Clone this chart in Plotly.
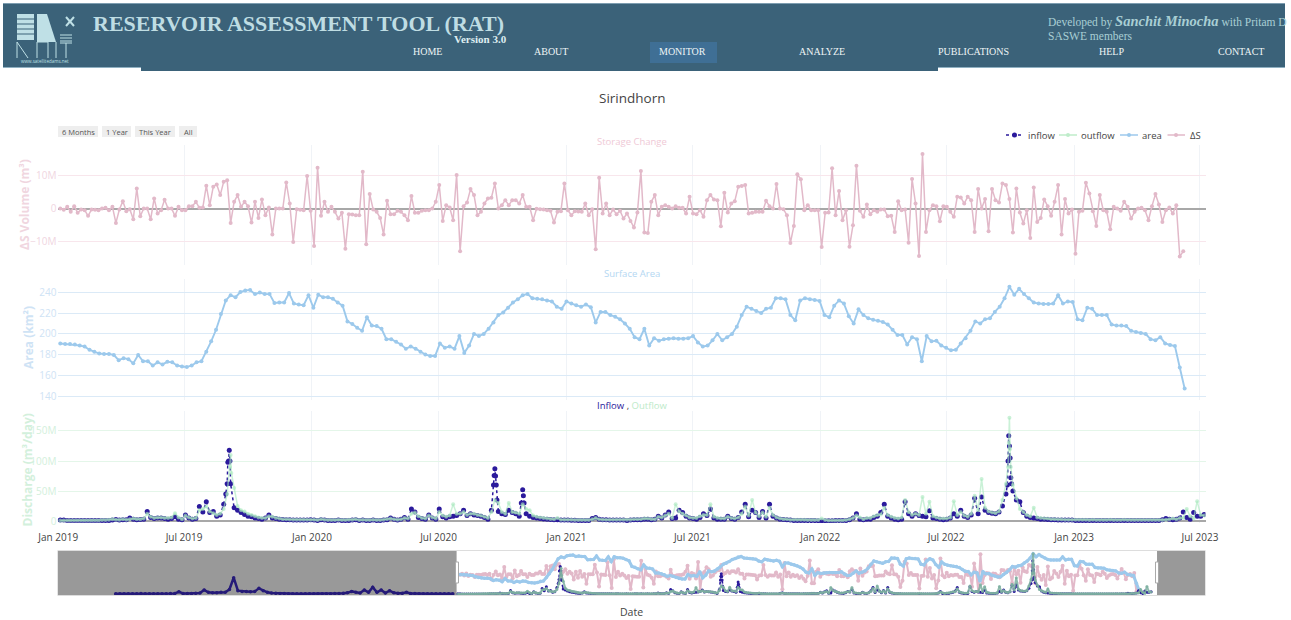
import pandas as pd
import plotly.graph_objects as go

# ---------- data ----------
reservoir = "Sirindhorn"
tick_dtick = "M6"

area_km2 = [191,190.5,190.5,190,189,188,185,183,181.5,181,181,180,175,177,176,172,180,174,174,170,173,171,173.5,173,170,169,168.5,170,173,174,
183,193,204,219,232,237,235,240,241.5,242,238,239.5,238,238,229.5,230,230,239,229,228,227.5,237,225,237.5,235,235,233.5,230,227,212,
209.5,206,203,216,208,207.5,205,195,195,192.5,190,186,188,186,183,180.5,179,179,191,187,188,186,198,182,189,200,198,200,205,211,
218,220.5,225,230,233,237,238,234,233.5,233,232,231,226,224,231,229,227.5,226,228,225.5,211,221,221,218,216.5,214,210,205,197,195,
205,189,196,193.5,195,195.5,196,195.5,195.5,196,198,192,188,189,194,200,194,197,200,207,218,226,224,222,220,224,225,234,234,233,
218,213,232,234,233,232.5,231.5,218,216,227,232,229,217,210,223.5,218,215,213.5,212.5,211.5,209,204,199,199,190,197,195,174,198,193,
193.5,189,187,184.5,185,191,196,203,212,210,214,215,221,226,234,245,237.5,243,238,234,230,229,228.5,228.5,229,237,229,231,230.5,214,
213,225,224,218,218,218,209,208,208,207.5,203,202,201,200,195,194,197,191,189.5,188.5,168,148]

delta_s_m = [0,-0.4,0.5,-1,0.7,-1.3,-0.3,-0.5,-2.2,-0.3,-0.4,-0.5,0,0.2,-0.5,0.5,-4.3,-0.3,2.2,-0.8,-0.2,-3.2,6,-2.3,0,0,-3.2,3,-1.5,-0.5,
2.6,0,0,-2.2,0.5,-0.5,-0.5,0.7,0.7,2,0.2,0.3,6.8,1,6.5,7.2,4,8,8.4,-4.3,2,4,0.5,2,0.7,-4.2,2,-2.8,2.7,-2,
0.3,-7.8,0,0,0,7.8,1.5,-10,-0.2,-0.4,-0.5,9.7,-0.7,-11.2,12.2,-2.2,2,-1,0.5,-1,-3,-1.3,-12,-1.7,-1.8,-2,-2,11,-10.7,4.3,
-0.3,-1,-2.8,-7.8,2.3,-1.7,-1.7,-0.7,-1,-2,-3.5,3.7,-1.3,-1.3,-0.7,-0.5,-0.5,0,2,7,-3.7,1,
0.3,-3.5,10,-12.8,0.7,1.8,5.8,4,-2,-1,1.5,3,3.2,7.5,0,1,2.5,1,2.5,2.5,1.5,4,0.5,0.5,-3.5,-0.1,-0.2,-0.3,-0.5,-0.7,-4.2,-1,-0.8,7.5,-0.5,-2,-0.8,-0.9,-1,1.5,
-2,-0.2,-12.2,9.2,-1.5,1.5,-2,-0.3,-1.7,-0.7,-3,-1.5,-3.7,-5.7,-1.2,11.2,-7.2,-7.3,2,4,-2,0.5,1,0.5,0,0.7,0.2,0.2,-1.5,3.5,-1.5,-1.7,-0.5,-2.5,2.5,4,2.7,2.5,-5.3,4.7,
-1.2,1.5,2.2,6.5,6.7,7,-1.5,-1.3,-1,-1,-1,2.3,0.7,0,7.3,0,-0.2,-2,-10.3,-5.2,10.2,8.7,-0.5,1,-0.5,-0.5,-0.5,-11.5,-1.3,-1.2,12,-2,5.2,-3.5,-0.5,-11.4,-5,12.8,-0.7,-2.5,
1.2,-1.7,-0.5,-1,-0.3,-0.3,-2.3,-2.2,-7,2.2,-0.5,-0.3,-10.2,8.8,1.5,-14.2,16.3,-7,-0.5,1,0.7,-3.8,0.7,0.5,-1,-2.5,3.5,3.3,1.5,3.5,2.5,-7,5.8,0,2.8,-6.8,5.8,2.5,1.8,7.5,
7,2.8,-7.2,6,-1.2,-4.5,-0.5,-8.8,6.3,-4,-2.8,2.7,0.7,-2.2,2,7,-7.8,2.8,-1.5,-0.3,-13.5,-1,-0.7,7.7,4.5,-0.8,-5.2,4,-0.5,-1,-6.2,0.5,0,-0.7,2,0.5,-3,-1,0,0.2,
-0.5,-3.5,0.7,4.3,1.2,-4,-0.5,0.3,-1.5,1,-14.3,-12.8]

inflow_m = [1.5,1.5,1,1,1,1,1,1,1,1,1,1,1,1,1,1.5,2.5,1.5,2,2,5,3,2,2.5,3,16,6,4,5,5,4,3,4,7,3,2,10,5,3,4,24,15,32,14,16,8,10,28,62,62,
22,18,14,11,8,7,5,4,3,5,10,5,4,3,2.5,2,2,1.5,1.5,1.5,1.5,1.5,2,1.5,1,2,1.5,1,1,1,1.5,1,1,1,1.5,2,1,1.5,1,1,1.5,1,1,1.5,2,5,3,1.5,3,6,
3,20,15,6,4,3,10,5,3,20,7,5,7,8,9,12,18,9,12,10,9,8,6,3,18,87,16,12,11,18,14,12,8,52,12,8,6,5,4,3.5,3,2.5,2,2,1.5,1.5,1.5,1.2,1.2,1,
1,1,1,4,6,3,2,2,1.5,1.5,1.5,1.5,1.5,1,1.5,2,2,2,3,3,2,3,8,5,10,15,4,5,18,14,8,5,4,3,6,12,9,20,5,3,3,3,8,4,3,6,15,28,7,18,
14,6,16,5,28,8,5,3,2.5,2,1.5,1,1,1,1,0.7,0.7,0.7,0.5,0.5,0.5,0.5,0.5,0.7,0.7,0.7,1,2,5,12,3,2,3,3,6,8,14,28,8,5,3,2,3,32,12,8,12,9,
8,7,17,5,4,3,2,3,5,12,8,18,8,6,10,38,12,40,18,14,13,12,15,25,45,125,50,35,32,14,8,6,5,4,3,3,2.5,2,2,1.5,1.5,1.5,1.5,1.5,1,1,1,1,1,1,
1,1,1,1,1,1,1,1,1,1,1,1,1,1,1,1,1,1,1,2,4,3,2,3,5,15,6,3,14,8,8,11]
inflow_peak_days = [241,244,245,246,247,626,627,629,630,631,666,669,670,1365,1366,1367,1369,1370,1371]
inflow_peak_m = [45,98,100,118,100,60,76,75,60,35,30,42,30,60,100,142,105,72,62]

outflow_m = [1,1,1,1,1,1,1,1,1,1,1,1,1.5,1.5,2,3,2,2,3,2,3,4,3,3,4,12,7,5,6,6,5,5,6,13,6,3,9,6,4,5,18,20,24,16,13,10,12,20,45,110,
55,25,18,16,12,10,8,6,5,5,8,7,5,4,3,3,2.5,2,2,2,2,2,2,2,1.5,3,2,1.5,1.5,1.5,2,1.5,1.5,2,2,3,1.5,2,1.5,1.5,2,1.5,1.5,2,3,4,3,2,3,5,
4,12,14,8,5,4,9,6,4,15,9,7,9,28,12,12,15,10,12,12,10,9,7,5,15,35,30,15,12,30,15,14,12,28,20,18,9,7,6,5,4,3.5,3,5,2,2,2,2,1.5,1.5,
1.5,1.5,1.5,3,5,3,2,2,2,2,2,2,2,2,2,3,3,3,4,4,3,3,7,6,9,12,5,28,16,12,9,6,5,5,8,10,10,28,7,5,4,4,7,5,4,6,12,24,9,35,14,8,
14,7,22,10,6,4,3,3,2,2,2,2,2,1.5,1.5,1.5,1.5,4,1.5,1,1,1,1,1,1.5,3,5,9,6,3,5,5,8,10,11,22,10,7,5,4,6,35,15,10,12,10,40,12,32,8,
6,4,4,4,6,33,10,15,9,7,12,42,18,70,22,16,14,13,16,35,62,172,60,38,20,15,10,8,22,6,5,4,4,3,3,2.5,2.5,2,2,2,2,2,2,2,1.5,2,1.5,1.5,1.5,1.5,
2,1.5,1.5,1.5,2,1.5,1.5,1.5,1.5,1.5,1.5,1.5,1.5,1.5,1.5,1.5,2,3,4,3,5,5,20,8,4,33,10,9]
outflow_peak_days = [247,249,1366,1367,1369,1370]
outflow_peak_m = [90,80,90,130,120,90]

# inflow record before the displayed window (only visible in the overview strip)
inflow_history_m = [2,2,2,2,2,2,3,2,2,2,2,2,2,3,3,10,3,3,3,4,5,18,8,6,6,8,8,20,70,15,12,12,10,12,25,15,8,5,4,3,3,2,2,2,2,2,2,2,2,2,2,2,3,3,4,6,12,8,5,18,
8,30,8,18,5,15,6,4,4,8,3,3,2,2,2,2,2,2,2,2,2]

legend_names = ["inflow", "outflow", "area", "ΔS"]
range_buttons = ["6 Months", "1 Year", "This Year", "All"]

# ---------- sampling dates ----------
START = pd.Timestamp("2019-01-01")
area_dates = pd.date_range("2019-01-04", periods=len(area_km2), freq="7D")
ds_dates = pd.date_range("2019-01-04", periods=len(delta_s_m), freq="5D")
hist_dates = pd.date_range("2016-10-14", periods=len(inflow_history_m), freq="10D")

def flow_series(values, peak_days, peak_vals):
    s = pd.Series(values, index=[3 + 5 * i for i in range(len(values))], dtype=float)
    s = pd.concat([s, pd.Series(peak_vals, index=peak_days, dtype=float)]).sort_index()
    return START + pd.to_timedelta(s.index, unit="D"), s.values * 1e6

in_dates, in_vals = flow_series(inflow_m, inflow_peak_days, inflow_peak_m)
out_dates, out_vals = flow_series(outflow_m, outflow_peak_days, outflow_peak_m)
ds_vals = [v * 1e6 for v in delta_s_m]
hist_vals = [v * 1e6 for v in inflow_history_m]

# ---------- look ----------
W, H = 1291, 620
X = lambda p: p / W
Y = lambda p: 1 - p / H
C_IN, C_OUT, C_AREA, C_DS = "#2b1a9c", "rgba(170,232,190,0.62)", "#9cc9ec", "#e2b9c9"
C_OUT_MINI = "rgba(125,175,160,0.85)"
C_OUT_TXT = "#bdeac9"
HDR = "#3b6279"
LOGO = "#bfe0e6"
SERIF = "Liberation Serif"
SANS = "Open Sans"
VGRID = "#f0f3f7"
T_DS, T_AREA, T_Q = "#f0d6df", "#cfe3f5", "#d3f0dc"

fig = go.Figure()

def main_traces(xa, ya1, ya2, ya3, mini):
    c_out = C_OUT_MINI if mini else C_OUT
    fig.add_trace(go.Scatter(x=in_dates, y=in_vals, name="inflow", xaxis=xa, yaxis=ya3, mode="lines+markers",
                             line=dict(color=C_IN, width=1.6 if mini else 1.5, dash="dot"), marker=dict(color=C_IN, size=3 if mini else 5)))
    fig.add_trace(go.Scatter(x=out_dates, y=out_vals, name="outflow", xaxis=xa, yaxis=ya3, mode="lines+markers",
                             line=dict(color=c_out, width=2 if mini else 1.5), marker=dict(color=c_out, size=3 if mini else 4)))
    fig.add_trace(go.Scatter(x=area_dates, y=area_km2, name="area", xaxis=xa, yaxis=ya2, mode="lines+markers",
                             line=dict(color=C_AREA, width=3 if mini else 1.9), marker=dict(color=C_AREA, size=3.5 if mini else 4)))
    fig.add_trace(go.Scatter(x=ds_dates, y=ds_vals, name="ΔS", xaxis=xa, yaxis=ya1, mode="lines+markers",
                             line=dict(color=C_DS, width=2 if mini else 1.5), marker=dict(color=C_DS, size=4)))

main_traces("x3", "y", "y2", "y3", False)
main_traces("x4", "y4", "y5", "y6", True)
fig.add_trace(go.Scatter(x=hist_dates, y=hist_vals, xaxis="x4", yaxis="y6", mode="lines+markers", name="inflow",
                         line=dict(color="#251a78", width=2.5), marker=dict(color="#251a78", size=3.5)))

dom_x = [X(57.5), X(1205.5)]
main_range = ["2018-12-31", "2023-07-09"]
R1 = [-16.87e6, 18.96e6]
R2 = [137.1, 252.4]
R3 = [-3.3e6, 183.3e6]

def yaxis(domain, rng, grid, tick, dtick, **kw):
    return dict(domain=[Y(domain[1]), Y(domain[0])], range=rng, gridcolor=grid, tickfont=dict(family=SANS, size=10, color=tick),
                dtick=dtick, tickformat="~s", fixedrange=True, gridwidth=1, **kw)

def mini_y(rng, **kw):
    return dict(domain=[Y(595), Y(551)], range=rng, visible=False, anchor="x4", fixedrange=True, **kw)

hidden_x = dict(domain=dom_x, range=main_range, matches="x3", showticklabels=False, gridcolor=VGRID, dtick=tick_dtick, zeroline=False)

fig.update_layout(
    width=W, height=H, margin=dict(l=0, r=0, t=0, b=0, autoexpand=False), paper_bgcolor="white", plot_bgcolor="white",
    font=dict(family=SANS, color="#444"),
    showlegend=False,
    xaxis=dict(anchor="y", **hidden_x),
    xaxis2=dict(anchor="y2", **hidden_x),
    xaxis3=dict(anchor="y3", domain=dom_x, range=main_range, type="date", dtick=tick_dtick, tick0="2019-01-01", tickformat="%b %Y",
                gridcolor=VGRID, tickfont=dict(family=SANS, size=10, color="#444"), zeroline=False,
                ticks="outside", ticklen=5, tickcolor="rgba(0,0,0,0)"),
    xaxis4=dict(anchor="y4", domain=dom_x, range=["2016-05-29", "2023-11-13"], type="date", visible=False, fixedrange=True),
    yaxis=yaxis((145, 265), R1, "#f8e6ec", T_DS, 1e7, anchor="x", zeroline=True, zerolinecolor="#a8a8a8", zerolinewidth=1.5),
    yaxis2=yaxis((279, 400), R2, "#dbeaf7", T_AREA, 20, anchor="x2", zeroline=False),
    yaxis3=yaxis((411, 523), R3, "#e4f6e9", T_Q, 5e7, anchor="x3", zeroline=True, zerolinecolor="#a8a8a8", zerolinewidth=2),
    yaxis4=mini_y(R1), yaxis5=mini_y(R2, overlaying="y4"), yaxis6=mini_y(R3, overlaying="y4"),
)

def rect(x0, y0, x1, y1, fill, line=None, layer="above", lw=0):
    return dict(type="rect", xref="paper", yref="paper", x0=X(x0), x1=X(x1), y0=Y(y0), y1=Y(y1),
                fillcolor=fill, line=dict(color=line or fill, width=lw), layer=layer)

def seg(x0, y0, x1, y1, color=LOGO, w=1, dash="solid"):
    return dict(type="line", xref="paper", yref="paper", x0=X(x0), x1=X(x1), y0=Y(y0), y1=Y(y1), line=dict(color=color, width=w, dash=dash))

def dot(cx, cy, r, color):
    return dict(type="circle", xref="paper", yref="paper", x0=X(cx - r), x1=X(cx + r), y0=Y(cy + r), y1=Y(cy - r), fillcolor=color, line=dict(width=0))

button_boxes = [(58, 98), (102, 131), (135, 175), (179, 197)]

shapes = [
    rect(3, 3, 1285, 68, HDR),
    seg(3, 3.5, 1285, 3.5, "#7d9db0", 1),
    seg(3, 67.5, 141, 67.5, "#8fb0c2", 1),
    seg(938, 67.5, 1285, 67.5, "#8fb0c2", 1),
    rect(141, 68, 938, 71, HDR),
    rect(650, 42, 717, 63, "#3f6f95"),
    # logo
    rect(17, 14, 34, 40, LOGO),
    dict(type="path", xref="paper", yref="paper", fillcolor=LOGO, line=dict(width=0),
         path=f"M {X(37)} {Y(14)} L {X(47)} {Y(14)} L {X(56)} {Y(42)} L {X(37)} {Y(42)} Z"),
    seg(17, 19, 34, 19, HDR, 1), seg(17, 24, 34, 24, HDR, 1), seg(17, 29, 34, 29, HDR, 1), seg(17, 34, 34, 34, HDR, 1),
    seg(17, 42, 17, 58), seg(17, 42, 28, 58), seg(37, 42, 37, 58), seg(37, 42, 48, 42), seg(48, 42, 48, 58),
    seg(56, 42, 56, 58), seg(60, 43, 72, 43), seg(66, 43, 66, 58),
    seg(60, 35, 72, 35), seg(60, 38, 72, 38), seg(60, 41, 72, 41),
    seg(66, 17, 74, 26, LOGO, 2), seg(74, 17, 66, 26, LOGO, 2),
    # overview strip
    dict(type="rect", xref="x4", yref="y4", x0="2016-05-29", x1="2019-01-01", y0=R1[0], y1=R1[1], fillcolor="#999999",
         line=dict(width=0), layer="below"),
    dict(type="rect", xref="x4", yref="y4", x0="2023-07-21", x1="2023-11-13", y0=R1[0], y1=R1[1], fillcolor="#999999",
         line=dict(width=0), layer="below"),
    seg(57.5, 550.5, 1205.5, 550.5, "#dddddd", 1),
    seg(57.5, 595.5, 1205.5, 595.5, "#dddddd", 1),
    rect(455.5, 562, 458.5, 583, "white", "#aaaaaa", "above", 1),
    rect(1155.5, 562, 1158.5, 583, "white", "#aaaaaa", "above", 1),
    # legend keys
    seg(1006, 135, 1023, 135, C_IN, 1.5, "dot"), dot(1014.5, 135, 2.5, C_IN),
    seg(1059, 135, 1077, 135, "#bfecca", 1.5), dot(1068, 135, 2, "#bfecca"),
    seg(1120, 135, 1138, 135, C_AREA, 1.5), dot(1129, 135, 2, C_AREA),
    seg(1167.5, 135, 1185, 135, C_DS, 1.5), dot(1176, 135, 2, C_DS),
] + [rect(a, 126, b, 137, "#eeeeee") for a, b in button_boxes]
fig.update_layout(shapes=shapes)

def note(x, y, text, size, color, family=SANS, anchor="center", angle=0):
    return dict(xref="paper", yref="paper", x=X(x), y=Y(y), text=text, showarrow=False, xanchor=anchor, yanchor="middle",
                textangle=angle, font=dict(family=family, size=size, color=color))

nav = [("HOME", 427), ("ABOUT", 551), ("MONITOR", 683), ("ANALYZE", 822), ("PUBLICATIONS", 973), ("HELP", 1111), ("CONTACT", 1241)]
legend_x = [1026, 1079, 1140, 1188]
annotations = [
    note(91, 24, "<b>RESERVOIR ASSESSMENT TOOL (RAT)</b>", 22, "#bfdde3", SERIF, "left"),
    note(509, 39, "<b>Version 3.0</b>", 11, "#dfeef1", SERIF, "right"),
    note(1046, 21, 'Developed by <span style="font-size:14.5px"><b><i>Sanchit Minocha</i></b></span> with Pritam D', 11.5, "#a9cfd4", SERIF, "left"),
    note(1046, 36, "SASWE members", 11.5, "#a9cfd4", SERIF, "left"),
    note(45, 61, "www.satellitedams.net", 4.5, LOGO, SANS),
    note(631.5, 98, reservoir, 13.5, "#444", SANS),
    note(631.5, 141, "Storage Change", 9.5, "#efc9d6", SANS),
    note(631.5, 273, "Surface Area", 9.5, "#b4d7f2", SANS),
    note(631.5, 405, f'<span style="color:{C_IN}">Inflow</span> <span style="color:#444">,</span> <span style="color:{C_OUT_TXT}">Outflow</span>', 9.5, "#444", SANS),
    note(631.5, 612, "Date", 10.5, "#444", SANS),
    note(25, 205, "<b>ΔS Volume (m³)</b>", 12, T_DS, SANS, angle=-90),
    note(28, 337, "<b>Area (km²)</b>", 12, T_AREA, SANS, angle=-90),
    note(26.5, 470, "<b>Discharge (m³/day)</b>", 12, T_Q, SANS, angle=-90),
] + [note(x, 51.5, t, 10, "#eef5f6", SERIF) for t, x in nav] + [
    note(x, 135, t, 9.5, "#444", SANS, "left") for t, x in zip(legend_names, legend_x)] + [
    note((a + b) / 2, 131.5, t, 7.5, "#555", SANS) for t, (a, b) in zip(range_buttons, button_boxes)]
fig.update_layout(annotations=annotations)

fig.write_html("out.html", config={"displayModeBar": False},
               post_script="document.body.style.margin='0';document.body.style.overflow='hidden';")
